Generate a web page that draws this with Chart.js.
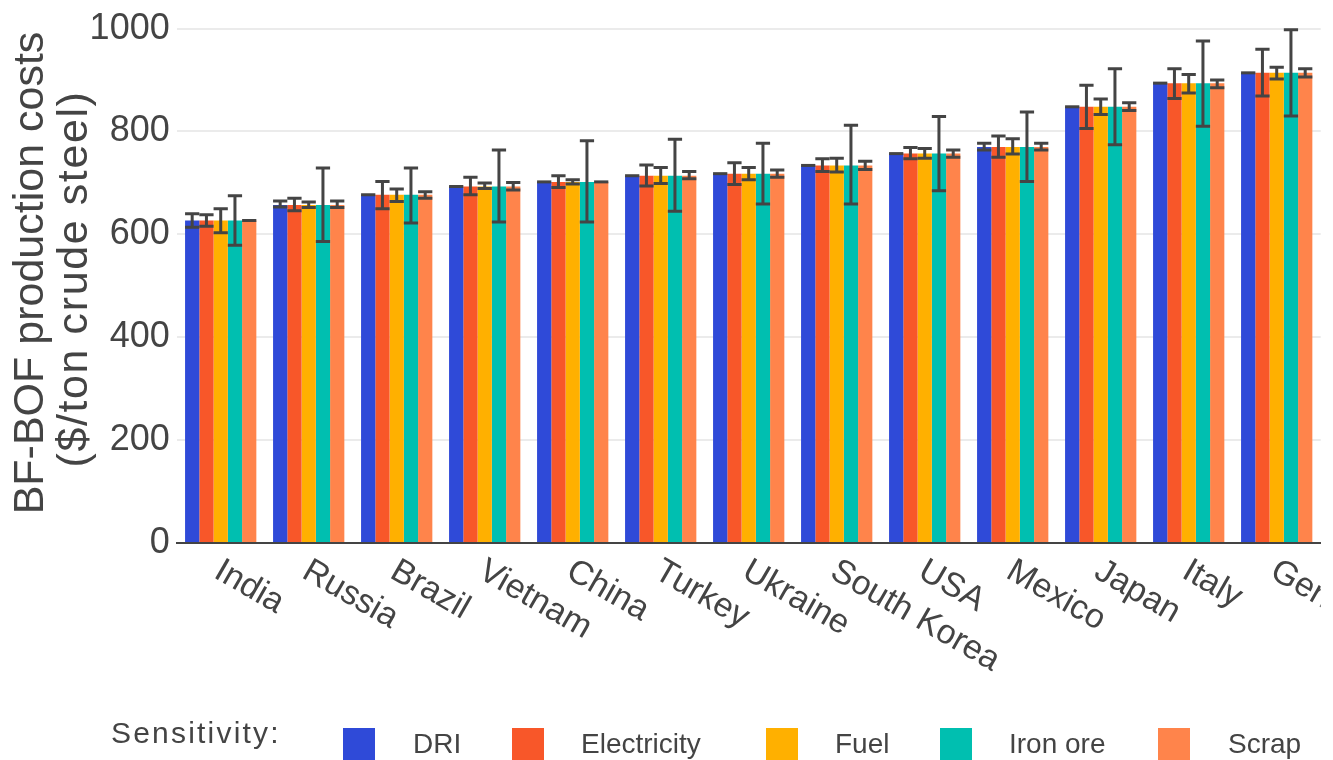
<!DOCTYPE html>
<html>
<head>
<meta charset="utf-8">
<script src="https://cdn.jsdelivr.net/npm/chart.js@4.4.1/dist/chart.umd.min.js"></script>
<style>
  html, body { margin: 0; padding: 0; background: #fff; overflow: hidden; }
  #wrap { position: relative; width: 1333px; height: 760px; overflow: hidden; }
  #chart-box { position: absolute; left: 0; top: 0; width: 1333px; height: 760px; }
  .lg-text { position: absolute; font-family: "Liberation Sans", Arial, sans-serif; font-size: 28px;
             line-height: 28px; color: #444; white-space: nowrap; }
  .lg-swatch { position: absolute; width: 32px; height: 40px; }
</style>
</head>
<body>
<div id="wrap">
  <div id="chart-box"><canvas id="chart"></canvas></div>
  <div id="legend"></div>
</div>
<script>
// Countries ordered by BF-BOF production cost
const countries = ['India', 'Russia', 'Brazil', 'Vietnam', 'China', 'Turkey', 'Ukraine',
                   'South Korea', 'USA', 'Mexico', 'Japan', 'Italy', 'Germany'];

// Base production cost ($/ton crude steel)
const baseCost = [627, 657, 677, 693, 702, 714, 718, 734, 757, 770, 848, 894, 914];

// Sensitivity ranges (low / high) per input
const driLow    = [614, 653, 677, 693, 702, 714, 718, 734, 757, 764, 848, 894, 914];
const driHigh   = [640, 665, 677, 693, 702, 714, 718, 734, 757, 777, 848, 894, 914];
const elecLow   = [616, 646, 650, 677, 691, 694, 697, 722, 747, 750, 806, 864, 869];
const elecHigh  = [638, 670, 703, 711, 714, 735, 739, 747, 769, 791, 890, 922, 960];
const fuelLow   = [603, 652, 664, 689, 698, 699, 706, 721, 748, 756, 833, 875, 902];
const fuelHigh  = [650, 663, 688, 700, 706, 730, 730, 748, 767, 786, 863, 911, 925];
const oreLow    = [579, 586, 622, 624, 624, 645, 659, 659, 685, 703, 774, 810, 830];
const oreHigh   = [675, 729, 729, 764, 782, 785, 777, 812, 829, 838, 922, 976, 998];
const scrapLow  = [627, 652, 670, 686, 702, 708, 711, 726, 750, 764, 841, 885, 906];
const scrapHigh = [627, 665, 683, 701, 702, 722, 725, 742, 764, 777, 856, 900, 922];

const sensitivityNames = ['DRI', 'Electricity', 'Fuel', 'Iron ore', 'Scrap'];
const sensitivityColors = ['#2F4AD8', '#F85729', '#FFB000', '#00BFB0', '#FF844B'];
const rangeLow  = [driLow, elecLow, fuelLow, oreLow, scrapLow];
const rangeHigh = [driHigh, elecHigh, fuelHigh, oreHigh, scrapHigh];

const yTicks = [0, 200, 400, 600, 800, 1000];
const yTitleLines = ['BF-BOF production costs', '($/ton crude steel)'];

const FONT = '"Liberation Sans", Arial, sans-serif';
const INK = '#444';

Chart.defaults.font.family = FONT;
Chart.defaults.color = INK;

// Whisker plot drawn on top of every bar from its low/high values
const errorBars = {
  id: 'errorBars',
  afterDatasetsDraw(chart) {
    const { ctx, scales: { y } } = chart;
    ctx.save();
    ctx.strokeStyle = INK;
    ctx.lineWidth = 3;
    ctx.lineCap = 'butt';
    chart.data.datasets.forEach((ds, di) => {
      const meta = chart.getDatasetMeta(di);
      meta.data.forEach((bar, i) => {
        const lo = y.getPixelForValue(ds.errLow[i]);
        const hi = y.getPixelForValue(ds.errHigh[i]);
        const half = bar.width / 2;
        ctx.beginPath();
        if (Math.abs(lo - hi) > 0.5) {
          ctx.moveTo(bar.x, hi); ctx.lineTo(bar.x, lo);
          ctx.moveTo(bar.x - half, lo); ctx.lineTo(bar.x + half, lo);
        }
        ctx.moveTo(bar.x - half, hi); ctx.lineTo(bar.x + half, hi);
        ctx.stroke();
      });
    });
    ctx.restore();
  }
};

// Slanted category labels hanging from each tick, plus the two-line y title
const axisText = {
  id: 'axisText',
  afterDraw(chart) {
    const { ctx, scales: { x }, chartArea } = chart;
    ctx.save();
    // labels stop at the right edge of the plot area
    ctx.beginPath();
    ctx.rect(0, chartArea.bottom, chartArea.right, chart.height - chartArea.bottom);
    ctx.clip();
    ctx.font = '34px ' + FONT;
    ctx.fillStyle = INK;
    ctx.textAlign = 'left';
    ctx.textBaseline = 'top';
    chart.data.labels.forEach((lab, i) => {
      const px = x.getPixelForValue(i);
      ctx.save();
      ctx.translate(px + 5, chartArea.bottom + 11);
      ctx.rotate(Math.PI / 6);
      ctx.fillText(lab, 0, 0);
      ctx.restore();
    });
    ctx.restore();

    ctx.save();
    ctx.fillStyle = INK;
    ctx.font = '43px ' + FONT;
    ctx.textAlign = 'center';
    ctx.textBaseline = 'middle';
    const titlePos = [[31, 273, '0px'], [75, 279, '1.6px']];
    yTitleLines.forEach((line, k) => {
      ctx.save();
      ctx.translate(titlePos[k][0], titlePos[k][1]);
      ctx.rotate(-Math.PI / 2);
      ctx.letterSpacing = titlePos[k][2];
      ctx.fillText(line, 0, 0);
      ctx.restore();
    });
    ctx.restore();
  }
};

new Chart(document.getElementById('chart'), {
  type: 'bar',
  data: {
    labels: countries,
    datasets: sensitivityNames.map((name, k) => ({
      label: name,
      data: baseCost,
      errLow: rangeLow[k],
      errHigh: rangeHigh[k],
      backgroundColor: sensitivityColors[k],
      borderWidth: 0,
      categoryPercentage: 0.81,
      barPercentage: 1.0
    }))
  },
  options: {
    responsive: true,
    maintainAspectRatio: false,
    devicePixelRatio: 1,
    animation: false,
    layout: { padding: { top: 24, right: 12.3, bottom: 0, left: 0 } },
    plugins: { legend: { display: false }, tooltip: { enabled: false } },
    scales: {
      x: {
        grid: { display: false },
        border: { display: true, color: INK, width: 2 },
        ticks: { display: false },
        afterFit(s) { s.height = 217; }
      },
      y: {
        min: 0,
        max: 1000,
        afterBuildTicks(s) { s.ticks = yTicks.map(v => ({ value: v })); },
        afterFit(s) { s.width = 176.7; },
        border: { display: false },
        grid: {
          drawTicks: false,
          lineWidth: 2,
          color: ctx => (ctx.tick && ctx.tick.value === 0) ? 'rgba(0,0,0,0)' : '#EBEBEB'
        },
        ticks: { font: { size: 36 }, color: INK, padding: 7, callback: v => String(v) }
      }
    }
  },
  plugins: [errorBars, axisText]
});

// Legend strip along the bottom edge
const legendEl = document.getElementById('legend');
const legendSwatchX = [343, 512, 766, 940, 1158];
const legendTextX = [413, 581, 835, 1009, 1228];
const heading = document.createElement('div');
heading.className = 'lg-text';
heading.style.left = '111px';
heading.style.top = '718px';
heading.style.fontSize = '30px';
heading.style.lineHeight = '30px';
heading.style.letterSpacing = '2.2px';
heading.textContent = 'Sensitivity:';
legendEl.appendChild(heading);
sensitivityNames.forEach((name, k) => {
  const sw = document.createElement('div');
  sw.className = 'lg-swatch';
  sw.style.left = legendSwatchX[k] + 'px';
  sw.style.top = '727.7px';
  sw.style.background = sensitivityColors[k];
  legendEl.appendChild(sw);
  const tx = document.createElement('div');
  tx.className = 'lg-text';
  tx.style.left = legendTextX[k] + 'px';
  tx.style.top = '729.6px';
  tx.textContent = name;
  legendEl.appendChild(tx);
});
</script>
</body>
</html>
